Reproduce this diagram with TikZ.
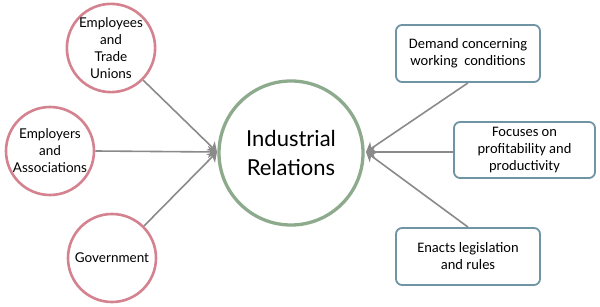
\documentclass[tikz,border=0pt]{standalone}
\usepackage{fontspec}
\setmainfont{Lato}
\newfontfamily\boxfont{Carlito}
\usetikzlibrary{arrows.meta}
\definecolor{pinkc}{HTML}{D4828F}
\definecolor{greenc}{HTML}{8DAA8D}
\definecolor{bluec}{HTML}{6F95A4}
\definecolor{linec}{HTML}{8A8A8A}
\begin{document}
\begin{tikzpicture}[x=1pt,y=-1pt,
  actor/.style={circle,draw=pinkc,line width=2.6pt,minimum size=88pt,inner sep=0pt,align=center,font=\fontsize{13.5}{17}\selectfont},
  hub/.style={circle,draw=greenc,line width=3.3pt,minimum size=144pt,inner sep=0pt,align=center,font=\fontsize{22}{29}\selectfont},
  rolebox/.style={draw=bluec,line width=1.8pt,rounded corners=6pt,inner sep=0pt,align=center,font=\boxfont\fontsize{14.5}{17}\selectfont},
  conn/.style={draw=linec,line width=1.6pt,-{Stealth[length=9pt,width=12pt,inset=2.5pt]}}]
\useasboundingbox (0,0) rectangle (600,307);
\fill[white] (0,0) rectangle (600,307);
\node[hub] (ir) at (291,153) {Industrial\\Relations};
\node[actor] (emp) at (111,48) {Employees\\and\\Trade\\Unions};
\node[actor] (ers) at (50,151) {Employers\\and\\Associations};
\node[actor] (gov) at (112,258) {Government};
\node[rolebox,minimum width=144pt,minimum height=57pt] (dem) at (468,53.5) {Demand concerning\\working\ \ conditions};
\node[rolebox,minimum width=141pt,minimum height=56pt] (foc) at (524.5,150) {Focuses on\\profitability and\\productivity};
\node[rolebox,minimum width=144pt,minimum height=57pt] (ena) at (468,256.5) {Enacts legislation\\and rules};
\coordinate (tipL) at (217,152);
\coordinate (tipR) at (366,152);
\draw[conn] (emp.-45) -- (tipL);
\draw[conn] (ers.east) -- (tipL);
\draw[conn] (gov.45) -- (tipL);
\draw[conn] (dem.south) -- (tipR);
\draw[conn] (foc.west |- tipR) -- (tipR);
\draw[conn] (ena.north) -- (tipR);
\end{tikzpicture}
\end{document}
